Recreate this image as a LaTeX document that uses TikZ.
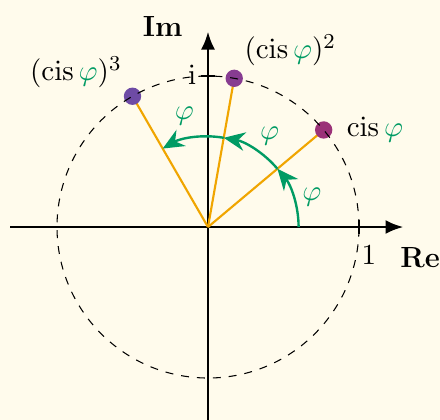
\documentclass[tikz,border=0pt]{standalone}
\definecolor{cpxbg}{RGB}{255,251,236}
\definecolor{cpxgreen}{RGB}{0,155,100}
\definecolor{cpxorange}{RGB}{240,165,0}
\definecolor{cpxmag}{RGB}{155,50,120}
\definecolor{cpxplum}{RGB}{135,60,145}
\definecolor{cpxviolet}{RGB}{110,75,165}
\usepackage{tikz}
\usetikzlibrary{arrows.meta,positioning}
\usepackage{amsmath}
\tikzset{
  axarr/.style={line width=1.1pt,-{Latex[length=6.8pt,width=5.3pt]}},
  spoke/.style={cpxorange,line width=0.8pt},
  turn/.style={cpxgreen,line width=0.9pt,-{Stealth[length=8pt,width=7pt]}},
  zdot/.style={circle,fill=#1,inner sep=0pt,minimum size=2.3mm},
  zdot/.default=cpxmag,
  tk/.style={line width=0.6pt},
}

\begin{document}
\begin{tikzpicture}[font=\fontsize{11}{13}\selectfont]
    \path[use as bounding box,fill=cpxbg] (-2.755,-2.556) rectangle (3.073,3.007);
    \coordinate (O) at (0,0);
    \coordinate (xs) at (-2.62,0);
    \coordinate (xe) at (2.59,0);
    \coordinate (ys) at (0,-2.62);
    \coordinate (ye) at (0,2.59);

    \draw[axarr] (xs) -- (xe);
    \draw[axarr] (ys) -- (ye);
    \draw[tk] (2,-0.09) -- (2,0.09);
    \draw[tk] (-0.09,2) -- (0.09,2);

    \foreach \k/\a/\c in {1/40/cpxmag, 2/80/cpxplum, 3/120/cpxviolet}{
      \coordinate (q\k) at (\a:2);
      \draw[spoke] (O) -- (q\k);
      \node[zdot=\c] (p\k) at (q\k) {};
    }
    \draw[dashed,thin] (O) circle (2);

    \foreach \k/\s in {1/0, 2/40, 3/80}{
      \coordinate (a\k) at (\s:1.2);
      \draw[turn] (a\k) arc[start angle=\s,delta angle=40,radius=1.2];
    }
    \foreach \k/\b/\r in {1/16/1.43, 2/56/1.46, 3/102/1.5}
      \node[text=cpxgreen] (f\k) at (\b:\r) {$\varphi$};

    \node[right=0.6mm of p1] (l1) {$\operatorname{cis}\textcolor{cpxgreen}{\varphi}$};
    \node (l2) at (1.09,2.34) {$(\operatorname{cis}\textcolor{cpxgreen}{\varphi})^2$};
    \node (l3) at (-1.75,2.05) {$(\operatorname{cis}\textcolor{cpxgreen}{\varphi})^3$};

    \node (one) at (2.13,-0.37) {$1$};
    \node (imu) at (-0.21,2.01) {$\mathrm{i}$};
    \node[font=\fontsize{11}{13}\selectfont\bfseries] (re) at (2.81,-0.40) {Re};
    \node[font=\fontsize{11}{13}\selectfont\bfseries] (im) at (-0.60,2.65) {Im};
\end{tikzpicture}
\end{document}
